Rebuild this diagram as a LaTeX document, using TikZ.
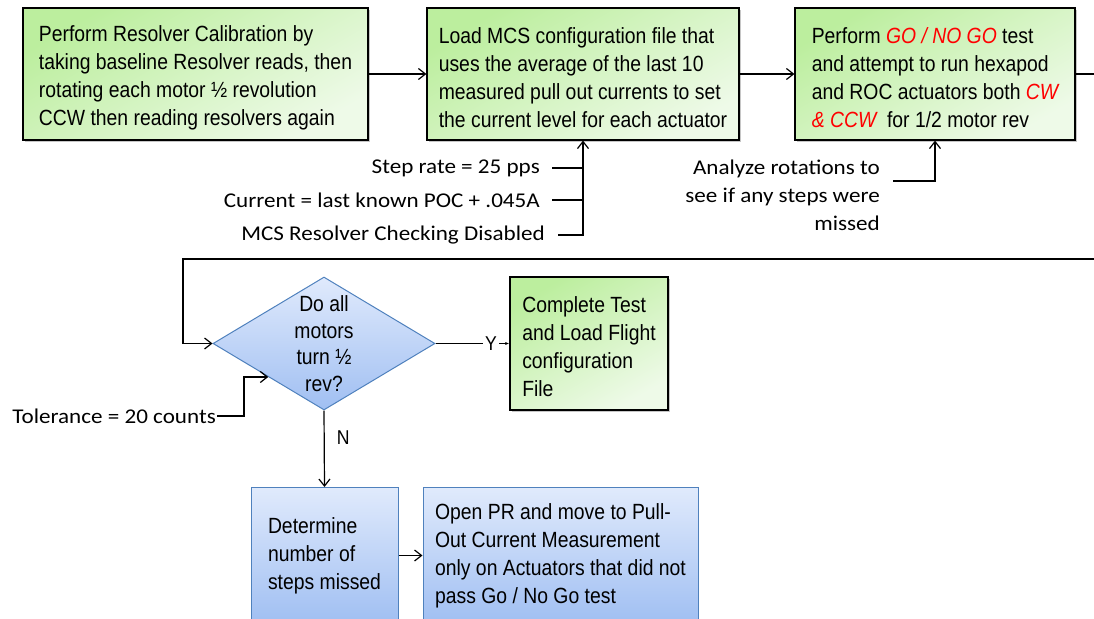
\documentclass[tikz,border=0pt]{standalone}
\usepackage{fontspec}
\setmainfont{Liberation Sans}[FakeStretch=0.88]
\newfontfamily\notefont{Carlito}[FakeStretch=1.1]
\usetikzlibrary{positioning,shapes.geometric,shadows,calc,arrows.meta}

\definecolor{grnA}{RGB}{188,238,158}
\definecolor{grnB}{RGB}{238,250,232}
\definecolor{bluA}{RGB}{224,234,252}
\definecolor{bluB}{RGB}{160,191,242}
\definecolor{bluL}{RGB}{79,129,189}

\newcommand{\rd}[1]{\textcolor{red}{\itshape #1}}

\begin{document}
\begin{tikzpicture}[x=1pt,y=-1pt,
                >={Straight Barb[length=7pt,width=11pt]},
                box/.style={draw=black,line width=1.2pt,top color=grnA,bottom color=grnB,shading angle=30,
                    drop shadow={shadow xshift=2pt,shadow yshift=-2pt,opacity=.45},
                    font=\fontsize{22}{28}\selectfont,align=left,inner sep=0pt,minimum height=132pt,
                    text height=107pt},
                bbox/.style={draw=bluL,line width=1pt,top color=bluA,bottom color=bluB,
                    font=\fontsize{22}{28}\selectfont,align=left,inner sep=0pt,minimum height=136pt,anchor=north},
                dec/.style={diamond,draw=bluL,line width=1pt,top color=bluA,bottom color=bluB,
                    minimum width=222pt,minimum height=133pt,inner sep=0pt},
                note/.style={font=\notefont\fontsize{21}{28}\selectfont,inner sep=0pt},
                yn/.style={font=\fontsize{20}{20}\selectfont,inner sep=2pt}
            ]
                \path[use as bounding box,clip] (0,0) rectangle (1094,618);

                \node[box,minimum width=345pt] (cal) at (195.5,74) {Perform Resolver Calibration by\\taking baseline Resolver reads, then\\rotating each motor ½ revolution\\CCW then reading resolvers again};
                \node[box,minimum width=312pt] (mcs) at (583,74) {Load MCS configuration file that\\uses the average of the last 10\\measured pull out currents to set\\the current level for each actuator};
                \node[box,minimum width=280pt] (go)  at (935,74) {Perform \rd{GO / NO GO} test\\and attempt to run hexapod\\and ROC actuators both \rd{CW}\\\rd{\& CCW}\ \ for 1/2 motor rev};

                \node[note,anchor=east] (rate) at (540,168) {Step rate = 25 pps};
                \node[note,anchor=east] (cur)  at (540,200) {Current = last known POC + .045A};
                \node[note,anchor=east] (chk)  at (545,235) {MCS Resolver Checking Disabled};
                \node[note,anchor=east,align=right] (ana) at (880,195) {Analyze rotations to\\see if any steps were\\missed};

                \node[dec] (turn) at (324,343.5) {};
                \node[font=\fontsize{22}{26.5}\selectfont,align=center,inner sep=0pt] (turntxt) at (turn.center) {Do all\\motors\\turn ½\\rev?};
                \node[box,minimum width=158pt,minimum height=133pt] (done) at (589,343.5) {Complete Test\\and Load Flight\\configuration\\File};
                \node[note,anchor=east] (tol) at (216,416) {Tolerance = 20 counts};

                \node[bbox,minimum width=147pt] (miss) at (324.5,487) {Determine\\number of\\steps missed};
                \node[bbox,minimum width=275pt] (pr)   at (560.5,487) {Open PR and move to Pull-\\Out Current Measurement\\only on Actuators that did not\\pass Go / No Go test};

                \coordinate (rgt) at (1104,74);
                \coordinate (bk)  at (183,259);
                \coordinate (tk)  at (244,377);

                \begin{scope}[line width=1.2pt]
                    \draw[->] (cal) -- (mcs);
                    \draw[->] (mcs) -- (go);
                    \draw[shorten <=12pt] (rate.east) -- (rate.east -| mcs.south);
                    \draw[shorten <=12pt] (cur.east)  -- (cur.east -| mcs.south);
                    \draw[->,shorten <=13pt] (chk.east) -| (mcs.south);
                    \draw[->,shorten <=13pt] ([yshift=14pt]ana.east) -| (go.south);
                    \draw[->] (go.east) -- (rgt) |- (bk) |- (turn.west);
                    \draw[->,shorten <=1pt] (tol.east) -| (tk) -- ($(turn.west)!.5!(turn.south)$);
                    \draw[-{Latex[length=4pt,width=3pt]}] (turn.east) -- node[yn,pos=.75,fill=white] {Y} (done.west);
                    \draw[->] (turn.south) -- node[yn,pos=.35,right=10pt] {N} (miss.north);
                    \draw[->] (miss) -- (pr);
                \end{scope}
            \end{tikzpicture}
\end{document}
